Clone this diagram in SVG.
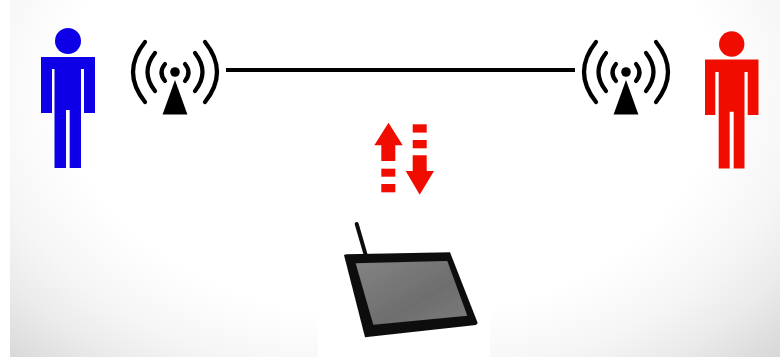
<svg xmlns="http://www.w3.org/2000/svg" width="780" height="358" viewBox="0 0 780 358">
<style>
.arc{fill:none;stroke:#000;stroke-width:4.2;stroke-linecap:round}
.blue{fill:#0a00e6}
.red{fill:#f01000}
.ar{fill:#f01000}
</style>
<defs>
<radialGradient id="bg" gradientUnits="userSpaceOnUse" cx="390" cy="90" r="100" gradientTransform="translate(390 90) scale(5.4 3.8) translate(-390 -90)">
<stop offset="0" stop-color="#fff"/>
<stop offset="0.6" stop-color="#fff"/>
<stop offset="0.76" stop-color="#f6f6f6"/>
<stop offset="0.87" stop-color="#ebebeb"/>
<stop offset="1" stop-color="#d8d8d8"/>
</radialGradient>
<linearGradient id="scr" x1="0" y1="0" x2="1" y2="1">
<stop offset="0" stop-color="#838383"/>
<stop offset="0.6" stop-color="#6e6e6e"/>
<stop offset="1" stop-color="#7c7c7c"/>
</linearGradient>
<filter id="soft" x="-5%" y="-5%" width="110%" height="110%"><feGaussianBlur stdDeviation="0.5"/></filter>
<g id="mast">
<circle cx="0" cy="72" r="4.8"/>
<path d="M0 80L12.4 114.5H-12.4Z"/>
<path class="arc" d="M-30 42Q-54 72-30 102M-20 53Q-35 72-20 91M-10 64Q-17 72.500-10 81M30 42Q54 72 30 102M20 53Q35 72 20 91M10 64Q17 72.500 10 81"/>
</g>
</defs>
<rect width="780" height="358" fill="#fff"/>
<rect x="10" width="770" height="357" fill="url(#bg)"/>
<rect x="318" y="296" width="172" height="62" fill="#fff" opacity="0.9"/>
<g filter="url(#soft)">
<g id="person-blue" class="blue">
<circle cx="68" cy="41" r="13"/>
<path d="M41 57H95V113H84V69H81V168H69.7V110H66V168H54.5V69H52V113H41Z"/>
</g>
<g id="antenna-left" transform="translate(175 0)"><use href="#mast"/></g>
<g id="antenna-right" transform="translate(626 0)"><use href="#mast"/></g>
<g id="person-red" class="red">
<circle cx="731.7" cy="44" r="12.7"/>
<path d="M705 59.500H758.500V115H747.700V72H744.500V168.500H733.700V111.700H729.700V168.500H718.700V72H715.300V115H705Z"/>
</g>
<g id="connectors">
<path d="M226 70H575" fill="none" stroke="#000" stroke-width="4"/>
</g>
<g id="arrow-up" class="ar">
<path d="M388.500 122.700L402.700 145.300H395.300V161H381.300V145.300H374.300Z"/>
<rect x="381.300" y="168.700" width="14" height="8"/>
<rect x="381.300" y="184" width="14" height="8.300"/>
</g>
<g id="arrow-down" class="ar">
<rect x="412.700" y="124.300" width="14" height="8.300"/>
<rect x="412.700" y="140" width="14" height="8.300"/>
<path d="M412.700 155.300H426.700V171H434L419.700 194.700L405.700 171H412.700Z"/>
</g>
<g id="tablet">
<path d="M356.700 224L365.700 255" fill="none" stroke="#0c0c0c" stroke-width="4" stroke-linecap="round"/>
<path d="M344 255L346 254.300L450 252.300L477.700 323L476 325L365 337.300Z" fill="#111"/>
<path d="M355.700 263.300L447.300 261L467.300 315.700L373.300 324.700Z" fill="url(#scr)"/>
</g>
</g>
</svg>
